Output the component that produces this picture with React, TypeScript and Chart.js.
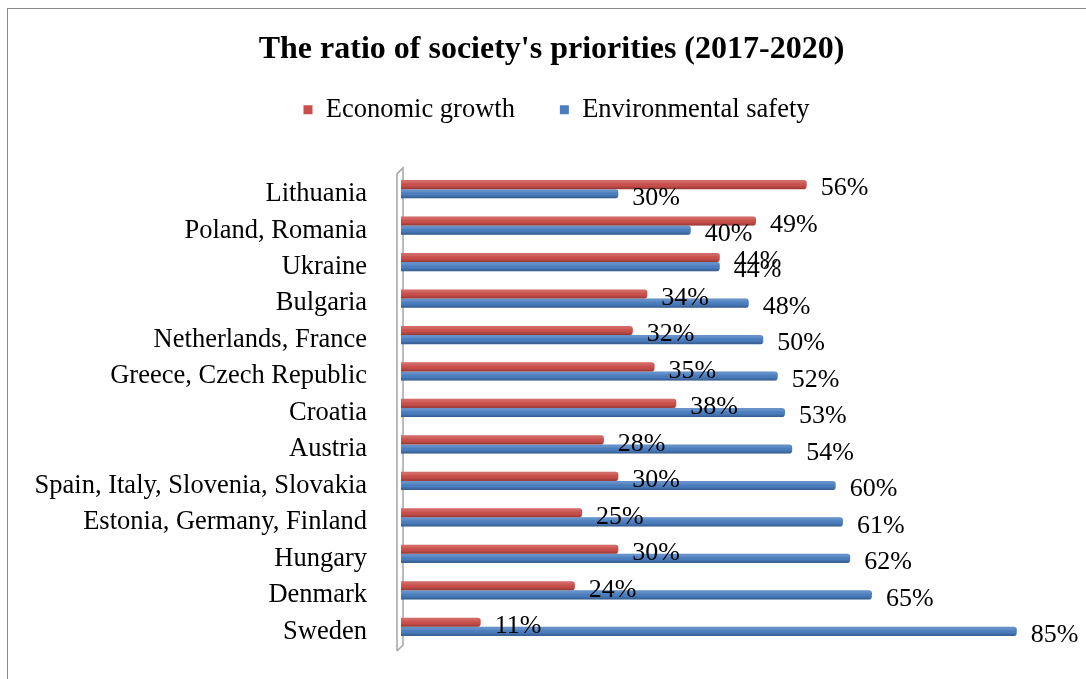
import React, { useEffect, useRef } from "react";
import { Chart, registerables } from "chart.js";

Chart.register(...registerables);

const titleText = "The ratio of society's priorities (2017-2020)";
const seriesNames = ["Economic growth", "Environmental safety"];
const categories = [
  "Lithuania",
  "Poland, Romania",
  "Ukraine",
  "Bulgaria",
  "Netherlands, France",
  "Greece, Czech Republic",
  "Croatia",
  "Austria",
  "Spain, Italy, Slovenia, Slovakia",
  "Estonia, Germany, Finland",
  "Hungary",
  "Denmark",
  "Sweden",
];
const economicGrowth = [56, 49, 44, 34, 32, 35, 38, 28, 30, 25, 30, 24, 11];
const environmentalSafety = [30, 40, 44, 48, 50, 52, 53, 54, 60, 61, 62, 65, 85];

const SERIF = '"Liberation Serif", "Times New Roman", Times, serif';
const RED = "#CB4F4B";
const BLUE = "#4A7EC0";

const blockTweakPlugin = {
  id: "blockTweak",
  afterInit(chart: any) {
    const legend = chart.legend;
    if (legend && !legend.__patched) {
      const origFit = legend.fit;
      legend.fit = function () {
        origFit.call(this);
        this.height += 20;
      };
      const origDraw = legend.draw;
      legend.draw = function () {
        const ctx = this.ctx;
        ctx.save();
        ctx.translate(26, -18);
        origDraw.call(this);
        ctx.restore();
      };
      legend.__patched = true;
    }
    const title = chart.titleBlock;
    if (title && !title.__patched) {
      const origDraw = title.draw;
      title.draw = function () {
        const ctx = this.ctx;
        ctx.save();
        ctx.translate(21, 0);
        origDraw.call(this);
        ctx.restore();
      };
      title.__patched = true;
    }
  },
};

const wallPlugin = {
  id: "wall",
  beforeDatasetsDraw(chart: any) {
    const { ctx, chartArea } = chart;
    const L = chartArea.left;
    const T = chartArea.top;
    const B = chartArea.bottom;
    ctx.save();
    ctx.strokeStyle = "#a6a6a6";
    ctx.lineWidth = 1.5;
    ctx.beginPath();
    ctx.moveTo(L - 4, B + 6);
    ctx.lineTo(L - 4, T + 3);
    ctx.lineTo(L + 2, T - 3);
    ctx.lineTo(L + 2, B);
    ctx.lineTo(L - 4, B + 6);
    ctx.stroke();
    ctx.restore();
  },
};

const shadeAndLabelPlugin = {
  id: "shadeAndLabel",
  afterDatasetsDraw(chart: any) {
    const { ctx } = chart;
    ctx.save();
    chart.data.datasets.forEach((ds: any, i: number) => {
      const meta = chart.getDatasetMeta(i);
      meta.data.forEach((bar: any) => {
        const { x, y, base, height } = bar.getProps(["x", "y", "base", "height"], true);
        const top = y - height / 2;
        const g = ctx.createLinearGradient(0, top, 0, top + height);
        g.addColorStop(0, "rgba(255,255,255,0.18)");
        g.addColorStop(0.3, "rgba(255,255,255,0.10)");
        g.addColorStop(0.6, "rgba(0,0,0,0)");
        g.addColorStop(1, "rgba(0,0,0,0.28)");
        ctx.fillStyle = g;
        ctx.fillRect(base, top, x - base - 1, height);
      });
    });
    ctx.fillStyle = "#000";
    ctx.font = `26px ${SERIF}`;
    ctx.textAlign = "left";
    ctx.textBaseline = "middle";
    chart.data.datasets.forEach((ds: any, i: number) => {
      const meta = chart.getDatasetMeta(i);
      meta.data.forEach((bar: any, j: number) => {
        const { x, y } = bar.getProps(["x", "y"], true);
        ctx.fillText(`${ds.data[j]}%`, x + 14, y + 4);
      });
    });
    ctx.restore();
  },
};

export default function App() {
  const ref = useRef<HTMLCanvasElement | null>(null);

  useEffect(() => {
    if (!ref.current) return;
    const chart = new Chart(ref.current, {
      type: "bar",
      data: {
        labels: categories,
        datasets: [
          {
            label: seriesNames[0],
            data: economicGrowth,
            backgroundColor: RED,
            borderWidth: 0,
            borderRadius: 3,
            borderSkipped: "start",
            categoryPercentage: 0.5,
            barPercentage: 1.0,
          },
          {
            label: seriesNames[1],
            data: environmentalSafety,
            backgroundColor: BLUE,
            borderWidth: 0,
            borderRadius: 3,
            borderSkipped: "start",
            categoryPercentage: 0.5,
            barPercentage: 1.0,
          },
        ],
      },
      options: {
        indexAxis: "y",
        animation: false,
        responsive: false,
        maintainAspectRatio: false,
        layout: { padding: { left: 0, right: 33, top: 0, bottom: 34 } },
        scales: {
          x: { display: false, min: 0, max: 90 },
          y: {
            grid: { display: false, drawTicks: false },
            border: { display: false },
            ticks: {
              color: "#000",
              font: { family: SERIF, size: 26.5 },
              padding: 34,
              labelOffset: 5,
              autoSkip: false,
            },
            afterFit: (s: any) => {
              s.width = 393;
              s.paddingTop = 0;
              s.paddingBottom = 0;
            },
          },
        },
        plugins: {
          title: {
            display: true,
            text: titleText,
            color: "#000",
            font: { family: SERIF, size: 32, weight: "bold" },
            padding: { top: 22, bottom: 0 },
          },
          legend: {
            display: true,
            position: "top",
            labels: {
              boxWidth: 9,
              boxHeight: 9,
              color: "#000",
              font: { family: SERIF, size: 26.5 },
              padding: 45,
            },
          },
          tooltip: { enabled: false },
        },
      },
      plugins: [blockTweakPlugin, wallPlugin, shadeAndLabelPlugin],
    } as any);
    return () => chart.destroy();
  }, []);

  return (
    <div
      style={{
        position: "fixed",
        left: 7,
        top: 8,
        width: 1079,
        height: 671,
        borderLeft: "1px solid #8a8a8a",
        borderTop: "1px solid #8a8a8a",
        background: "#fff",
        boxSizing: "border-box",
      }}
    >
      <canvas ref={ref} width={1078} height={670} style={{ display: "block" }} />
    </div>
  );
}
